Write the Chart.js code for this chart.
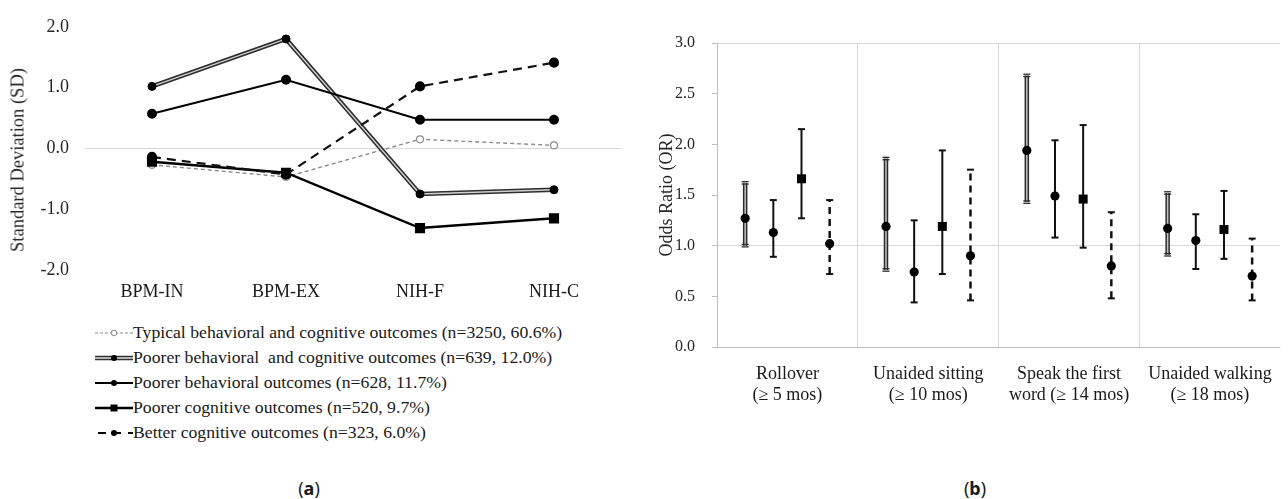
<!DOCTYPE html>
<html>
<head>
<meta charset="utf-8">
<script src="https://cdn.jsdelivr.net/npm/chart.js@4.4.0/dist/chart.umd.min.js"></script>
<style>
body { margin: 0; background: #fff; width: 1288px; height: 499px; overflow: hidden; position: relative;
       font-family: "Liberation Serif", "Times New Roman", serif; color: #1a1a1a; }
#boxA { position: absolute; left: 0; top: 0; }
#boxB { position: absolute; left: 640px; top: 0; }
#titleA { position: absolute; left: 18px; top: 160px; transform: translate(-50%, -50%) rotate(-90deg);
          font-size: 18.5px; white-space: nowrap; color: #262626; }
#legendA { position: absolute; left: 95px; top: 320px; font-size: 17.7px; }
.row { height: 25px; display: flex; align-items: center; white-space: nowrap; }
.row svg { width: 38px; height: 12px; flex: none; }
.panel { position: absolute; top: 476px; transform: translateX(-50%); font-family: "Noto Sans", sans-serif; font-size: 18px; }
</style>
</head>
<body>
<div id="boxA"><canvas id="chartA" width="640" height="310"></canvas></div>
<div id="titleA">Standard Deviation (SD)</div>
<div id="legendA"></div>
<div class="panel" style="left:309px">(<b>a</b>)</div>
<div id="boxB"><canvas id="chartB" width="648" height="407"></canvas></div>
<div class="panel" style="left:975px">(<b>b</b>)</div>
<script>
// (a) profiles
const measures = ['BPM-IN', 'BPM-EX', 'NIH-F', 'NIH-C'];
const typicalSD = [-0.27, -0.47, 0.15, 0.05];
const poorerBehCogSD = [1.02, 1.80, -0.75, -0.68];
const poorerBehSD = [0.57, 1.13, 0.47, 0.47];
const poorerCogSD = [-0.22, -0.40, -1.31, -1.15];
const betterCogSD = [-0.14, -0.43, 1.02, 1.41];
const groupLabels = [
    'Typical behavioral and cognitive outcomes (n=3250, 60.6%)',
    'Poorer behavioral  and cognitive outcomes (n=639, 12.0%)',
    'Poorer behavioral outcomes (n=628, 11.7%)',
    'Poorer cognitive outcomes (n=520, 9.7%)',
    'Better cognitive outcomes (n=323, 6.0%)'
];

// (b) odds ratios with 95% CI
const milestones = [
    ['Rollover', '(\u2265 5 mos)'],
    ['Unaided sitting', '(\u2265 10 mos)'],
    ['Speak the first', 'word (\u2265 14 mos)'],
    ['Unaided walking', '(\u2265 18 mos)']
];
const orBehCog = [1.27, 1.19, 1.94, 1.17];
const loBehCog = [1.00, 0.76, 1.43, 0.91];
const hiBehCog = [1.62, 1.86, 2.68, 1.52];
const orBeh = [1.13, 0.74, 1.49, 1.05];
const loBeh = [0.89, 0.44, 1.08, 0.77];
const hiBeh = [1.45, 1.25, 2.04, 1.31];
const orCog = [1.66, 1.19, 1.46, 1.16];
const loCog = [1.27, 0.72, 0.98, 0.87];
const hiCog = [2.15, 1.94, 2.19, 1.54];
const orBetter = [1.02, 0.90, 0.80, 0.70];
const loBetter = [0.72, 0.46, 0.48, 0.46];
const hiBetter = [1.45, 1.75, 1.33, 1.07];

Chart.defaults.font.family = '"Liberation Serif", "Times New Roman", serif';
Chart.defaults.color = '#262626';
Chart.defaults.animation = false;

const noLegend = {legend: {display: false}, tooltip: {enabled: false}};

// Left chart
new Chart(document.getElementById('chartA'), {
    type: 'line',
    data: {
        labels: measures,
        datasets: [
            {data: typicalSD, order: 9, borderColor: '#8c8c8c', borderWidth: 1.4, borderDash: [4, 3],
                pointRadius: 3.5, pointBackgroundColor: '#fff', pointBorderColor: '#8c8c8c', pointBorderWidth: 1.2},
            // double line: dark outer, light inner, then the dots
            {data: poorerBehCogSD, order: 8, borderColor: '#2e2e2e', borderWidth: 4.5, pointRadius: 0},
            {data: poorerBehCogSD, order: 7, borderColor: '#d0d0d0', borderWidth: 1.4, pointRadius: 0},
            {data: poorerBehCogSD, order: 6, showLine: false, pointRadius: 4, pointBackgroundColor: '#000', pointBorderColor: '#000'},
            {data: poorerBehSD, order: 5, borderColor: '#000', borderWidth: 2, pointRadius: 4,
                pointBackgroundColor: '#000', pointBorderColor: '#000'},
            {data: poorerCogSD, order: 4, borderColor: '#000', borderWidth: 2.4, pointStyle: 'rect', pointRadius: 5.5,
                pointBackgroundColor: '#000', pointBorderColor: '#000'},
            {data: betterCogSD, order: 3, borderColor: '#111', borderWidth: 2.2, borderDash: [9, 6], pointRadius: 4,
                pointBackgroundColor: '#000', pointBorderColor: '#000'}
        ]
    },
    options: {
        responsive: false,
        layout: {padding: {left: 0, right: 19, top: 22, bottom: 0}},
        plugins: noLegend,
        scales: {
            x: {
                offset: true,
                grid: {display: false},
                border: {display: false},
                ticks: {font: {size: 18}, padding: 3, color: '#1a1a1a'},
                afterFit: s => { s.height = 40; }
            },
            y: {
                min: -2, max: 2,
                grid: {drawTicks: false, color: c => c.tick && c.tick.value === 0 ? '#d9d9d9' : 'transparent'},
                border: {display: false},
                ticks: {stepSize: 1, padding: 16, font: {size: 18}, callback: v => v.toFixed(1)},
                afterFit: s => { s.width = 85; }
            }
        }
    }
});

// legend of the left chart
const samples = [
    '<line x1="0" y1="6" x2="38" y2="6" stroke="#8c8c8c" stroke-width="1.2" stroke-dasharray="3 2"/><circle cx="19" cy="6" r="2.8" fill="#fff" stroke="#8c8c8c"/>',
    '<line x1="0" y1="6" x2="38" y2="6" stroke="#2e2e2e" stroke-width="4.5"/><line x1="0" y1="6" x2="38" y2="6" stroke="#e0e0e0" stroke-width="1.4"/><circle cx="19" cy="6" r="3" fill="#000"/>',
    '<line x1="0" y1="6" x2="38" y2="6" stroke="#000" stroke-width="2"/><circle cx="19" cy="6" r="3" fill="#000"/>',
    '<line x1="0" y1="6" x2="38" y2="6" stroke="#000" stroke-width="2.6"/><rect x="15.5" y="2.5" width="7" height="7" fill="#000"/>',
    '<line x1="0" y1="6" x2="38" y2="6" stroke="#000" stroke-width="2" stroke-dasharray="8 7" stroke-dashoffset="-3"/><circle cx="19" cy="6" r="3" fill="#000"/>'
];
document.getElementById('legendA').innerHTML = groupLabels.map((t, i) =>
    `<div class="row"><svg viewBox="0 0 38 12">${samples[i]}</svg><span>${t.replace(/  /g, ' &nbsp;')}</span></div>`).join('');

// error bars drawn on top of invisible floating bars
const errorBars = {
    id: 'errorBars',
    afterDatasetsDraw(chart) {
        const ctx = chart.ctx;
        const y = chart.scales.y;
        chart.data.datasets.forEach((ds, i) => {
            chart.getDatasetMeta(i).data.forEach((bar, j) => {
                const x = bar.x;
                const half = bar.width / 2;
                const yLo = y.getPixelForValue(ds.data[j][0]);
                const yHi = y.getPixelForValue(ds.data[j][1]);
                const yMid = y.getPixelForValue(ds.or[j]);
                ctx.save();
                ctx.lineCap = 'butt';
                const seg = (x1, y1, x2, y2, w, col, dash) => {
                    ctx.beginPath();
                    ctx.setLineDash(dash || []);
                    ctx.strokeStyle = col;
                    ctx.lineWidth = w;
                    ctx.moveTo(x1, y1);
                    ctx.lineTo(x2, y2);
                    ctx.stroke();
                };
                if (ds.barStyle === 'double') {
                    seg(x, yLo, x, yHi, 4.5, '#2b2b2b');
                    seg(x, yLo, x, yHi, 1.5, '#c4c4c4');
                    [yLo, yHi].forEach(yy => {
                        seg(x - half, yy - 1.2, x + half, yy - 1.2, 1.3, '#2b2b2b');
                        seg(x - half, yy + 1.2, x + half, yy + 1.2, 1.3, '#2b2b2b');
                    });
                } else {
                    seg(x, yLo, x, yHi, ds.barStyle === 'dashed' ? 2.5 : 2, '#111', ds.barStyle === 'dashed' ? [7, 5] : null);
                    seg(x - half, yLo, x + half, yLo, 2, '#111');
                    seg(x - half, yHi, x + half, yHi, 2, '#111');
                }
                ctx.fillStyle = '#000';
                ctx.beginPath();
                if (ds.marker === 'rect') {
                    ctx.rect(x - 4.5, yMid - 4.5, 9, 9);
                } else {
                    ctx.arc(x, yMid, 4.6, 0, Math.PI * 2);
                }
                ctx.fill();
                ctx.restore();
            });
        });
    }
};

const ci = (lo, hi) => lo.map((v, k) => [v, hi[k]]);
const barBase = {backgroundColor: 'transparent', borderWidth: 0, maxBarThickness: 7,
    categoryPercentage: 0.8, barPercentage: 1};

new Chart(document.getElementById('chartB'), {
    type: 'bar',
    data: {
        labels: milestones,
        datasets: [
            {...barBase, data: ci(loBehCog, hiBehCog), or: orBehCog, barStyle: 'double', marker: 'circle'},
            {...barBase, data: ci(loBeh, hiBeh), or: orBeh, barStyle: 'solid', marker: 'circle'},
            {...barBase, data: ci(loCog, hiCog), or: orCog, barStyle: 'solid', marker: 'rect'},
            {...barBase, data: ci(loBetter, hiBetter), or: orBetter, barStyle: 'dashed', marker: 'circle'}
        ]
    },
    options: {
        responsive: false,
        layout: {padding: {left: 0, right: 3, top: 43, bottom: 0}},
        plugins: noLegend,
        scales: {
            x: {
                grid: {offset: true, drawTicks: false, color: c => c.type === 'tick' ? '#d9d9d9' : 'transparent'},
                border: {display: false},
                ticks: {font: {size: 18}, padding: 16, color: '#1a1a1a', maxRotation: 0, autoSkip: false},
                afterFit: s => { s.height = 60; }
            },
            y: {
                min: 0, max: 3,
                grid: {
                    tickLength: 5, tickColor: '#bfbfbf',
                    color: c => {
                        if (!c.tick) return 'transparent';
                        const v = c.tick.value;
                        if (v === 0) return '#bfbfbf';
                        return (v === 1 || v === 3) ? '#d9d9d9' : 'transparent';
                    }
                },
                border: {display: true, color: '#bfbfbf'},
                ticks: {stepSize: 0.5, padding: 17, font: {size: 16}, callback: v => v.toFixed(1)},
                title: {display: true, text: 'Odds Ratio (OR)', font: {size: 18}, padding: {top: 16, bottom: 0}},
                afterFit: s => { s.width = 77; }
            }
        }
    },
    plugins: [errorBars]
});
</script>
</body>
</html>
